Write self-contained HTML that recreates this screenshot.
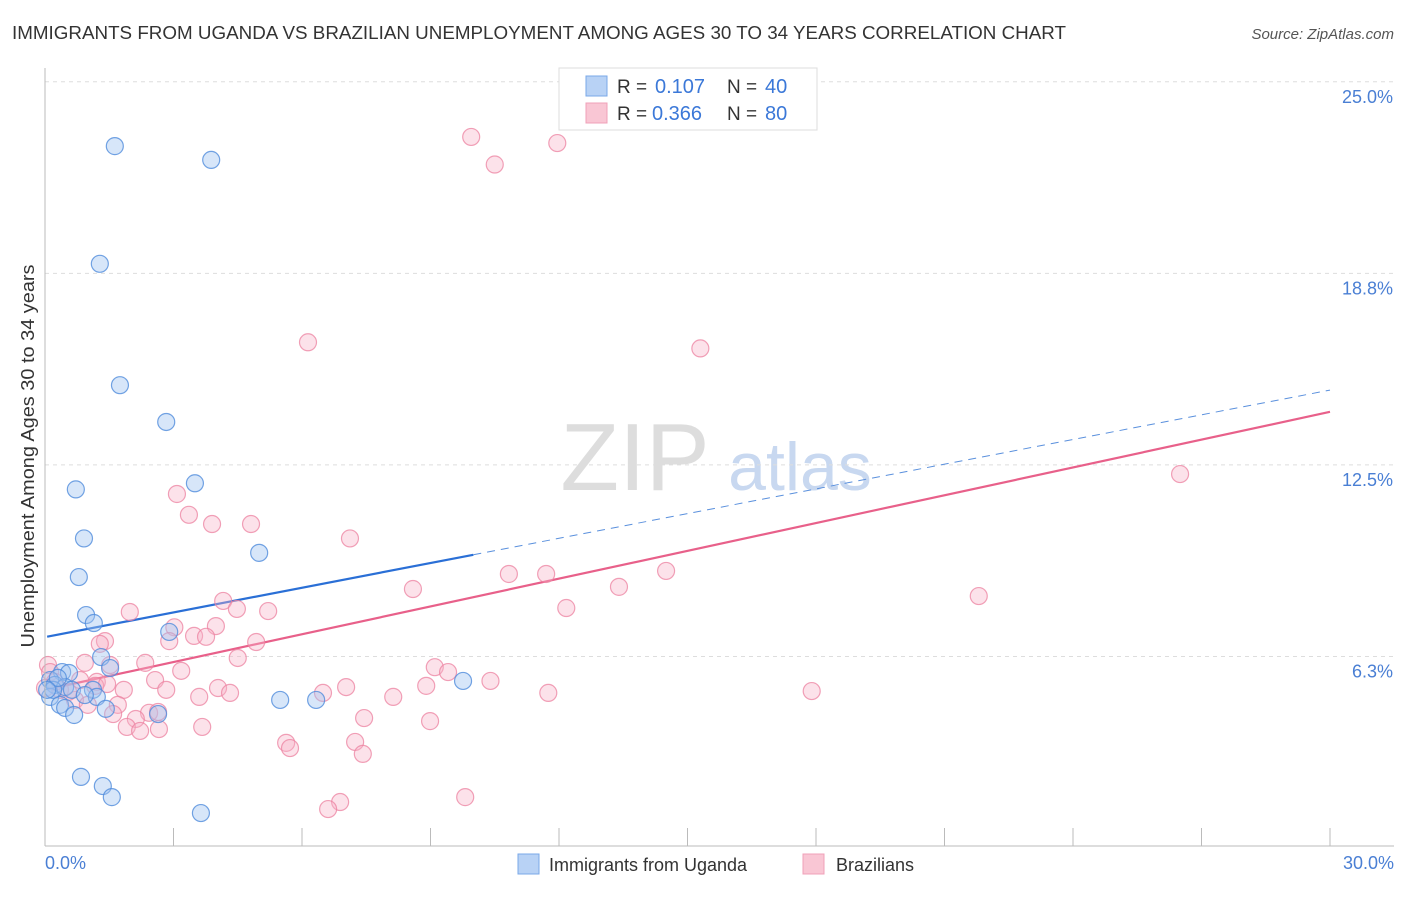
<!DOCTYPE html>
<html><head><meta charset="utf-8"><style>
body{margin:0;background:#fff;font-family:"Liberation Sans",sans-serif;}
svg text{font-family:"Liberation Sans",sans-serif;}
</style></head><body>
<svg id="chart" width="1406" height="892">
<text x="12" y="39" font-size="18" fill="#333" textLength="1054" lengthAdjust="spacingAndGlyphs">IMMIGRANTS FROM UGANDA VS BRAZILIAN UNEMPLOYMENT AMONG AGES 30 TO 34 YEARS CORRELATION CHART</text>
<text x="1394" y="39" font-size="15" fill="#555" font-style="italic" text-anchor="end">Source: ZipAtlas.com</text>
<text x="34" y="456" font-size="18" fill="#333" text-anchor="middle" textLength="383" lengthAdjust="spacingAndGlyphs" transform="rotate(-90 34 456)">Unemployment Among Ages 30 to 34 years</text>
<text x="635" y="490" font-size="96" fill="#ddd" font-family="Liberation Serif" text-anchor="middle">ZIP</text>
<text x="800" y="490" font-size="68" fill="#c8d8f0" text-anchor="middle">atlas</text>
<g id="grid"></g><g id="lines"></g><g id="pts"></g>
<line x1="45" y1="68" x2="45" y2="846" stroke="#bbb"/>
<line x1="45" y1="846" x2="1394" y2="846" stroke="#bbb"/>
<text x="45" y="869" font-size="18" fill="#4a7fd4">0.0%</text>
<text x="1394" y="869" font-size="18" fill="#4a7fd4" text-anchor="end">30.0%</text>
<g>
<rect x="559" y="68" width="258" height="62" fill="#fff" stroke="#ddd"/>
<rect x="586" y="76" width="21" height="20" fill="#b8d2f5" stroke="#7aa8e8"/>
<rect x="586" y="103" width="21" height="20" fill="#f9c6d4" stroke="#f0a0b8"/>
<text x="617" y="93" font-size="19" fill="#333">R =</text>
<text x="655" y="93" font-size="20" fill="#3b78d8">0.107</text>
<text x="727" y="93" font-size="19" fill="#333">N =</text>
<text x="765" y="93" font-size="20" fill="#3b78d8">40</text>
<text x="617" y="120" font-size="19" fill="#333">R =</text>
<text x="652" y="120" font-size="20" fill="#3b78d8">0.366</text>
<text x="727" y="120" font-size="19" fill="#333">N =</text>
<text x="765" y="120" font-size="20" fill="#3b78d8">80</text>
</g>
<g>
<rect x="518" y="854" width="21" height="20" fill="#b8d2f5" stroke="#7aa8e8"/>
<text x="549" y="871" font-size="18" fill="#333">Immigrants from Uganda</text>
<rect x="803" y="854" width="21" height="20" fill="#f9c6d4" stroke="#f0a0b8"/>
<text x="836" y="871" font-size="18" fill="#333">Brazilians</text>
</g>
</svg>
<script>
const yTicks=[25,18.75,12.5,6.25];
const yTickLabels=["25.0%","18.8%","12.5%","6.3%"];
const xTicks=[3,6,9,12,15,18,21,24,27,30];
const blueX=[1.63,3.88,1.28,1.75,2.83,0.72,3.5,0.91,5.0,0.79,0.96,1.14,2.9,1.31,1.52,0.4,0.56,0.12,0.23,0.47,0.63,1.12,1.21,0.12,0.35,0.47,0.68,1.42,2.64,5.49,6.33,9.76,0.84,1.35,1.56,3.64,0.19,0.3,0.05,0.93];
const blueY=[22.9,22.45,19.06,15.1,13.9,11.7,11.9,10.1,9.63,8.84,7.6,7.34,7.05,6.23,5.87,5.74,5.71,5.48,5.32,5.25,5.16,5.16,4.93,4.93,4.67,4.57,4.34,4.54,4.37,4.83,4.83,5.45,2.32,2.02,1.66,1.14,5.16,5.55,5.16,4.99];
const pinkX=[9.95,11.96,10.5,6.14,15.3,26.5,3.08,3.36,3.9,4.81,7.12,10.83,11.7,14.5,8.59,13.4,21.8,4.16,12.17,1.98,4.48,5.21,3.02,3.99,3.48,3.76,2.9,1.4,1.28,4.93,4.5,2.34,1.52,0.93,3.18,9.1,9.41,2.57,1.21,1.17,10.4,7.03,8.9,2.83,1.84,4.04,4.32,6.49,11.75,17.9,3.6,8.13,0.07,0.7,1.0,1.7,1.45,0.35,1.59,2.43,2.64,2.12,7.45,8.99,1.91,2.22,2.66,3.67,5.63,5.72,7.24,7.42,6.89,6.61,9.81,0.12,0.23,0.54,0.0,0.82];
const pinkY=[23.2,23.0,22.3,16.5,16.3,12.2,11.55,10.87,10.57,10.57,10.1,8.94,8.94,9.04,8.45,8.52,8.22,8.06,7.83,7.7,7.8,7.73,7.2,7.24,6.92,6.89,6.75,6.75,6.66,6.72,6.2,6.04,5.97,6.04,5.78,5.9,5.74,5.48,5.42,5.29,5.45,5.25,5.29,5.16,5.16,5.22,5.06,5.06,5.06,5.12,4.93,4.93,5.97,4.83,4.67,4.67,5.35,5.16,4.37,4.41,4.44,4.21,4.24,4.14,3.95,3.82,3.88,3.95,3.43,3.26,3.46,3.07,1.5,1.27,1.66,5.74,5.42,5.09,5.22,5.48];
const blueTrend=[6.88,14.94];
const pinkTrend=[5.16,14.23];
const blueSolidEnd=10.0;
const NS="http://www.w3.org/2000/svg";
const sx=v=>45+v*1285/30, sy=v=>848-v*30.65;
function mk(t,a,p){const e=document.createElementNS(NS,t);for(const k in a)e.setAttribute(k,a[k]);p.appendChild(e);return e;}
const grid=document.getElementById('grid');
yTicks.forEach((t,i)=>{
 const l=mk('line',{x1:45,x2:1394,y1:sy(t),y2:sy(t),stroke:'#ddd','stroke-dasharray':'4,4'},grid);
 
 
 const tx=mk('text',{x:1393,y:sy(t)+21,'font-size':18,fill:'#4a7fd4','text-anchor':'end'},grid);
 tx.textContent=yTickLabels[i];
 
 
});
xTicks.forEach(t=>{
 const l=mk('line',{x1:sx(t),x2:sx(t),y1:828,y2:846,stroke:'#bbb'},grid);
 
 
});
const pts=document.getElementById('pts');
pinkX.forEach((x,i)=>{
 const c=mk('circle',{cx:sx(x),cy:sy(pinkY[i]),r:8.5,fill:'rgba(248,180,200,0.38)',stroke:'rgba(236,130,160,0.75)','stroke-width':1.2},pts);
 
 
});
blueX.forEach((x,i)=>{
 const c=mk('circle',{cx:sx(x),cy:sy(blueY[i]),r:8.5,fill:'rgba(160,196,240,0.42)',stroke:'rgba(80,140,220,0.8)','stroke-width':1.2},pts);
 
 
});
const lines=document.getElementById('lines');
const by=x=>blueTrend[0]+(blueTrend[1]-blueTrend[0])*x/30;
const py=x=>pinkTrend[0]+(pinkTrend[1]-pinkTrend[0])*x/30;
let l1=mk('line',{x1:sx(0.05),y1:sy(by(0.05)),x2:sx(blueSolidEnd),y2:sy(by(blueSolidEnd)),stroke:'#2a6fd6','stroke-width':2.2},lines);


let l2=mk('line',{x1:sx(blueSolidEnd),y1:sy(by(blueSolidEnd)),x2:sx(30),y2:sy(by(30)),stroke:'#5a90dd','stroke-width':1,'stroke-dasharray':'8,6'},lines);


let l3=mk('line',{x1:sx(0.05),y1:sy(py(0.05)),x2:sx(30),y2:sy(py(30)),stroke:'#e8608a','stroke-width':2.2},lines);


</script>
</body></html>
